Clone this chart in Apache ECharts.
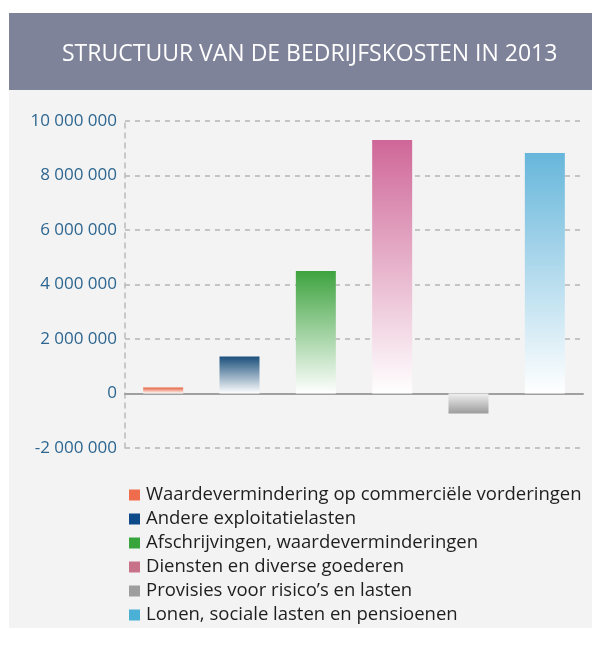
<!DOCTYPE html>
<html>
<head>
<meta charset="utf-8">
<script src="https://cdn.jsdelivr.net/npm/echarts@6/dist/echarts.min.js"></script>
<style>
  html, body { margin: 0; padding: 0; background: #ffffff; }
  #panel { position: absolute; left: 9px; top: 13px; width: 583px; height: 615px; background: #f3f3f3; }
  #band { position: absolute; left: 9px; top: 13px; width: 583px; height: 77px; background: #7f839a; }
  #chart { position: absolute; left: 0; top: 0; width: 592px; height: 655px; }
</style>
</head>
<body>
<div id="panel"></div>
<div id="band"></div>
<div id="chart"></div>
<script>
  const categories = [
    "Waardevermindering op commerciële vorderingen",
    "Andere exploitatielasten",
    "Afschrijvingen, waardeverminderingen",
    "Diensten en diverse goederen",
    "Provisies voor risico’s en lasten",
    "Lonen, sociale lasten en pensioenen"
  ];
  const values = [220000, 1360000, 4500000, 9300000, -730000, 8830000];
  const barColors = ["#e8603c", "#1a4f7b", "#3ea33f", "#cf6798", "#9c9c9c", "#66b6db"];
  const legendColors = ["#ef6c4c", "#0c4a8a", "#38a53c", "#c8728a", "#9e9e9e", "#4bb0d5"];

  let chart = echarts.init(document.getElementById("chart"));

  function spaced(v) {
    return String(v).replace(/\B(?=(\d{3})+(?!\d))/g, " ");
  }

  let series = categories.map(function (name, i) {
    let data = categories.map(function (c, j) {
      return j === i ? values[i] : null;
    });
    let pos = values[i] >= 0;
    return {
      name: name,
      type: "bar",
      barWidth: 40,
      barGap: "-100%",
      data: data,
      itemStyle: {
        color: new echarts.graphic.LinearGradient(0, 0, 0, 1, pos
          ? [{ offset: 0, color: barColors[i] }, { offset: 1, color: "#ffffff" }]
          : [{ offset: 0, color: "#f0f0f0" }, { offset: 1, color: barColors[i] }])
      }
    };
  });

  let option = {
    animation: false,
    title: {
      text: "STRUCTUUR VAN DE BEDRIJFSKOSTEN IN 2013",
      left: 57,
      top: 38,
      textStyle: {
        color: "#ffffff",
        fontFamily: "Open Sans",
        fontWeight: "normal",
        fontSize: 23
      }
    },
    legend: {
      orient: "vertical",
      left: 124,
      top: 478,
      itemWidth: 11,
      itemHeight: 11,
      itemGap: 0,
      icon: "rect",
      data: categories.map(function (c, i) {
        return { name: c, itemStyle: { color: legendColors[i] } };
      }),
      textStyle: {
        fontFamily: "Open Sans",
        fontSize: 18.5,
        lineHeight: 24,
        color: "#1e1e1e",
        padding: [0, 0, 0, 1]
      }
    },
    grid: {
      left: 125,
      right: 9,
      top: 121,
      bottom: 207,
      containLabel: false
    },
    xAxis: {
      type: "category",
      data: categories,
      axisLine: { show: true, onZero: true, lineStyle: { color: "#a0a0a0", width: 2 } },
      axisTick: { show: false },
      axisLabel: { show: false },
      splitLine: { show: false }
    },
    yAxis: {
      type: "value",
      min: -2000000,
      max: 10000000,
      interval: 2000000,
      axisLine: { show: true, lineStyle: { color: "#bbbbbb", type: [5, 5], width: 1.5 } },
      axisTick: { show: false },
      axisLabel: {
        margin: 8,
        color: "#2d6690",
        fontFamily: "Open Sans",
        fontSize: 17,
        formatter: spaced
      },
      splitLine: { lineStyle: { color: "#b5b5b5", type: [5, 5], width: 1.5 } }
    },
    series: series
  };
  chart.setOption(option);
</script>
</body>
</html>
